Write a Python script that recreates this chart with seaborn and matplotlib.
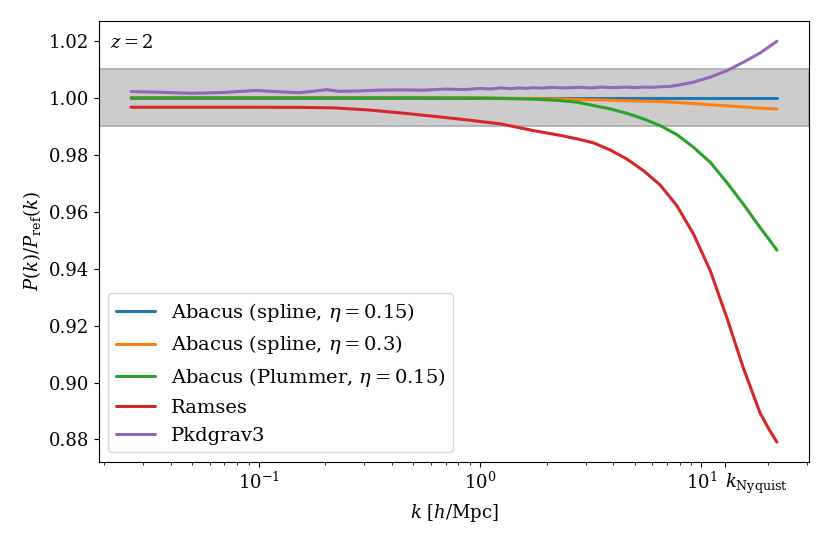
import numpy as np
import pandas as pd
import seaborn as sns
import matplotlib
matplotlib.use("agg")
import matplotlib.pyplot as plt

# values, k in h/Mpc
k_spline015 = [0.0265, 1.0, 22.0]
abacus_spline_015 = [1.0, 1.0, 1.0]

k_spline03 = [0.0265, 1.0, 1.5, 2.31, 3.27, 4.61, 6.53, 9.24, 13.06, 18.45, 22.0]
abacus_spline_03 = [1.0, 1.0, 0.9998, 0.9996, 0.9993, 0.9990, 0.9987, 0.9980,
                    0.9972, 0.9964, 0.9961]

k_plummer = [0.0265, 0.1, 0.5, 0.8, 1.0, 1.24, 1.75, 2.31, 2.75, 3.27, 3.88, 4.61,
             5.49, 6.53, 7.77, 9.24, 11.0, 13.06, 15.5, 18.45, 20.5, 22.0]
abacus_plummer = [1.0, 1.0, 1.0, 0.99995, 0.9999, 0.9998, 0.99955, 0.99905, 0.99845,
                  0.99729, 0.99613, 0.99458, 0.99261, 0.99025, 0.98708, 0.98261,
                  0.97732, 0.97028, 0.96268, 0.95444, 0.94975, 0.94648]

k_ramses = [0.0265, 0.05, 0.1, 0.155, 0.219, 0.31, 0.4375, 0.619, 0.875, 1.24, 1.75,
            2.31, 2.75, 3.27, 3.88, 4.61, 5.49, 6.53, 7.77, 9.24, 11.0, 13.06, 15.5,
            18.45, 20.5, 22.0]
ramses = [0.9967, 0.9967, 0.9967, 0.99665, 0.99648, 0.99577, 0.99472, 0.99352,
          0.99225, 0.99085, 0.98849, 0.9868, 0.9856, 0.98415, 0.98169, 0.97852,
          0.9744, 0.96937, 0.96208, 0.95211, 0.93919, 0.92275, 0.90514, 0.8893,
          0.88285, 0.87908]

# pkdgrav3 is noisier, read on a finer grid
k_pkd = [0.0265, 0.035, 0.05, 0.07, 0.097, 0.12, 0.152, 0.18, 0.203, 0.23, 0.28,
         0.35, 0.44, 0.55, 0.7, 0.85, 1.0, 1.12, 1.24, 1.38, 1.5, 1.62, 1.74, 1.9,
         2.1, 2.4, 2.84, 3.2, 3.5, 4.0, 4.63, 5.0, 5.5, 6.0, 6.53, 7.2, 7.79, 9.21,
         11.0, 13.1, 15.5, 18.5, 22.0]
pkdgrav3 = [1.0022, 1.0020, 1.0016, 1.0019, 1.0026, 1.0022, 1.0018, 1.0024, 1.0029,
            1.0023, 1.0024, 1.0027, 1.0028, 1.0027, 1.0031, 1.0029, 1.0033, 1.0031,
            1.0035, 1.0032, 1.0035, 1.0033, 1.0036, 1.0034, 1.0037, 1.0035, 1.0037,
            1.0035, 1.0038, 1.0036, 1.0038, 1.0036, 1.0038, 1.0037, 1.0039, 1.0040,
            1.0044, 1.0055, 1.0073, 1.0096, 1.0125, 1.0158, 1.0199]

labels = [r"Abacus (spline, $\eta=0.15$)", r"Abacus (spline, $\eta=0.3$)",
          r"Abacus (Plummer, $\eta=0.15$)", "Ramses", "Pkdgrav3"]
k_nyquist = 12.8

sns.set_style("ticks")
plt.rcParams["font.family"] = ["DejaVu Serif"]
plt.rcParams["mathtext.fontset"] = "dejavuserif"
plt.rcParams["axes.edgecolor"] = "black"
plt.rcParams["xtick.color"] = "black"
plt.rcParams["ytick.color"] = "black"
plt.rcParams["text.color"] = "black"
plt.rcParams["axes.labelcolor"] = "black"

frames = []
for kk, vals, lab in zip([k_spline015, k_spline03, k_plummer, k_ramses, k_pkd],
                         [abacus_spline_015, abacus_spline_03, abacus_plummer, ramses, pkdgrav3],
                         labels):
    frames.append(pd.DataFrame({"k": kk, "ratio": vals, "sim": lab}))
df = pd.concat(frames, ignore_index=True)

fig, ax = plt.subplots(figsize=(8.3, 5.43), dpi=100)
fig.subplots_adjust(left=0.119, right=0.975, top=0.961, bottom=0.149)

ax.axhspan(0.99, 1.01, facecolor="#cccccc", edgecolor="#aaaaaa", lw=1.2, zorder=0)
sns.lineplot(data=df, x="k", y="ratio", hue="sim", hue_order=labels,
             palette=sns.color_palette("tab10", 5), lw=2.2, ax=ax, sort=False)

ax.set_xscale("log")
ax.set_xlabel(r"$k$ [$h$/Mpc]", fontsize=13)
ax.set_ylabel(r"$P(k)/P_\mathrm{ref}(k)$", fontsize=13)
yt = np.arange(0.88, 1.021, 0.02)
ax.set_yticks(yt)
ax.set_yticklabels(["%.2f" % v for v in yt])
ax.set_xticks([0.1, 1, 10, k_nyquist],
              labels=[r"$10^{-1}$", r"$10^{0}$", r"$10^{1}$", r"$k_\mathrm{Nyquist}$"])
ax.xaxis.get_ticklabels()[-1].set_horizontalalignment("left")
ax.tick_params(labelsize=13)
ax.tick_params(which="minor", length=2.5)

ax.text(0.016, 0.939, r"$z=2$", transform=ax.transAxes, fontsize=13, va="baseline")

handles, labs = ax.get_legend_handles_labels()
ax.legend(handles, labs, loc="lower left", fontsize=14, labelspacing=0.5,
          fancybox=True, framealpha=0.8)

fig.savefig("out.png")
